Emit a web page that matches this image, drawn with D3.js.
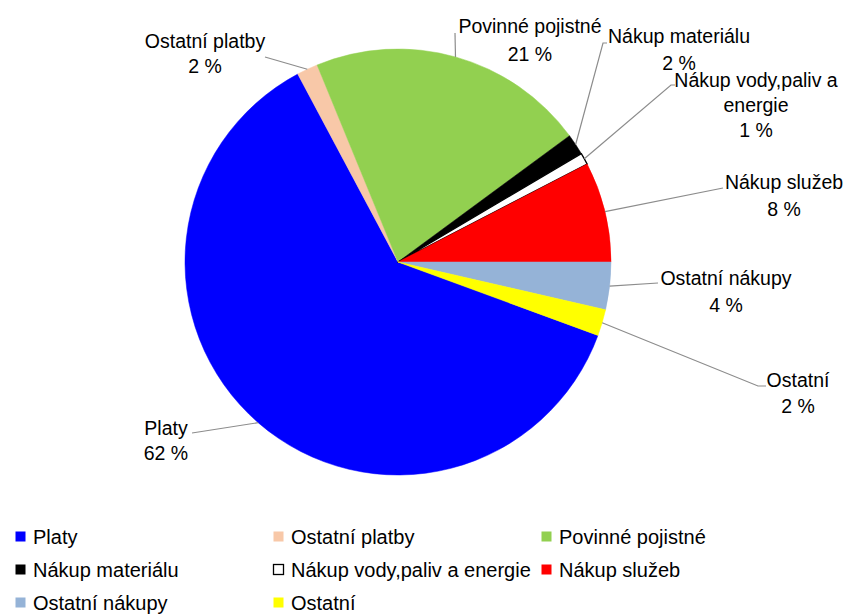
<!DOCTYPE html>
<html><head><meta charset="utf-8">
<script src="https://cdn.jsdelivr.net/npm/d3@7"></script>
<style>body{margin:0;background:#fff}svg{display:block}text{font-family:"Liberation Sans",Arial,sans-serif;fill:#000}</style>
</head><body><svg id="c" width="846" height="615"></svg>
<script>
const categories = ["Platy","Ostatní platby","Povinné pojistné","Nákup materiálu","Nákup vody,paliv a energie","Nákup služeb","Ostatní nákupy","Ostatní"];
const values = [61.6, 1.6, 21.1, 1.6, 0.9, 7.6, 3.6, 2.0];
const labelLines = [["Platy"],["Ostatní platby"],["Povinné pojistné"],["Nákup materiálu"],["Nákup vody,paliv a","energie"],["Nákup služeb"],["Ostatní nákupy"],["Ostatní"]];
const colors = ["#0000FF","#F8C8A8","#92D050","#000000","#FFFFFF","#FF0000","#95B3D7","#FFFF00"];

// layout (label centre x, first baseline y, leader end points near label)
const labelLayout = [
  {x:166, y:435, lh:25, lead:[[192,433]]},
  {x:205, y:48, lh:25, lead:[[265,57]]},
  {x:530, y:33, lh:28, lead:[[455,33]]},
  {x:679, y:43, lh:27, lead:[[607,43],[603,43]]},
  {x:756, y:87, lh:25, lead:[[675,85],[671,85]]},
  {x:784, y:189, lh:27, lead:[[723,188]]},
  {x:726, y:285, lh:27, lead:[[658,283]]},
  {x:798, y:387, lh:26, lead:[[766,386],[758,386]]}
];

const svg = d3.select("#c");
const cx = 398, cy = 262, R = 213;
const total = d3.sum(values);
const startDeg = 90 - 360 * d3.sum(values.slice(0,6)) / total;
const pie = d3.pie().sort(null).startAngle(startDeg*Math.PI/180).endAngle(startDeg*Math.PI/180 + 2*Math.PI);
const arcs = pie(values);
const arc = d3.arc().innerRadius(0).outerRadius(R);
const g = svg.append("g").attr("transform", `translate(${cx},${cy})`);
g.selectAll("path").data(arcs).join("path")
  .attr("d", arc)
  .attr("fill", (d,i)=>colors[i])
  .attr("stroke", (d,i)=> i===4 ? "#000" : colors[i])
  .attr("stroke-width", (d,i)=> i===4 ? 1.3 : 0.5)
  .attr("stroke-linejoin","round");

// leader lines
arcs.forEach((a,i)=>{
  const m = (a.startAngle + a.endAngle)/2;
  const p0 = [cx + R*Math.sin(m), cy - R*Math.cos(m)];
  const pts = [p0].concat(labelLayout[i].lead.slice().reverse());
  svg.append("path").attr("d", d3.line()(pts)).attr("fill","none").attr("stroke","#8c8c8c").attr("stroke-width",1.2);
});

// labels
arcs.forEach((a,i)=>{
  const L = labelLayout[i];
  const pct = Math.round(100*values[i]/total) + " %";
  const lines = labelLines[i].concat([pct]);
  const t = svg.append("text").attr("text-anchor","middle").attr("font-size","19.5px");
  lines.forEach((s,k)=> t.append("tspan").attr("x", L.x).attr("y", L.y + k*L.lh).text(s));
});

// legend
const legCols = [15, 273, 541], legRows = [544, 577, 610];
categories.forEach((c,i)=>{
  const x = legCols[i%3], y = legRows[Math.floor(i/3)];
  svg.append("rect").attr("x", x+0.5).attr("y", y-12.5).attr("width",10).attr("height",10)
    .attr("fill", colors[i]).attr("stroke", i===4 ? "#000" : "none").attr("stroke-width",1.3);
  svg.append("text").attr("x", x+18).attr("y", y).attr("font-size","20px").text(c);
});
</script></body></html>
